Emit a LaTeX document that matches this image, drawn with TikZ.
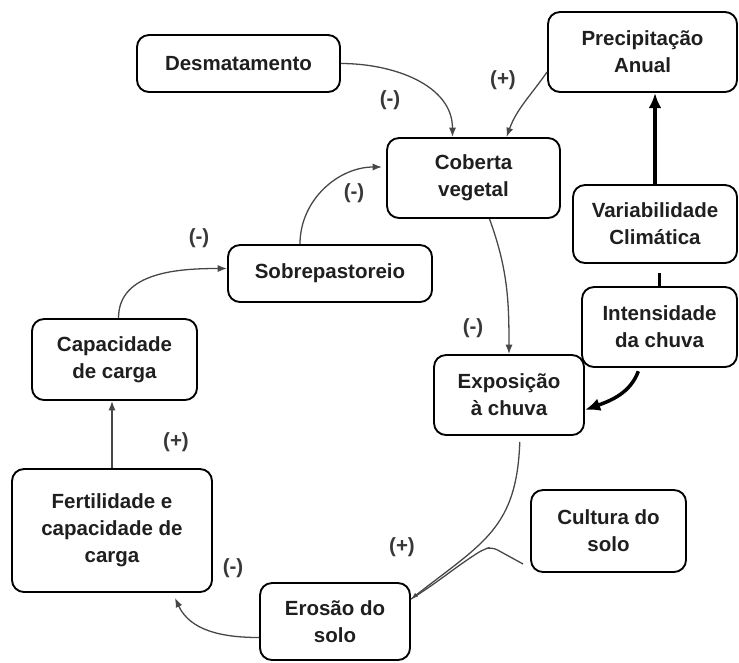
\documentclass[tikz,border=0pt]{standalone}
\usepackage{fontspec}
\setmainfont{Liberation Sans}
\usetikzlibrary{arrows.meta,calc}

\begin{document}
\begin{tikzpicture}[x=0.03cm, y=-0.03cm,
  box/.style={draw, line width=1.6pt, rounded corners=0.36cm, inner sep=0pt, align=center,
    font=\fontsize{17.5}{23}\selectfont\bfseries, text=black!88},
  sign/.style={font=\fontsize{17.5}{21}\selectfont\bfseries, text=black!78},
  link/.style={draw=black!72, line width=1.1pt, -{Latex[length=8pt,width=6pt]}},
  heavy/.style={draw=black, line width=3pt, -{Latex[length=13pt,width=11pt]}}]
\useasboundingbox (0,0) rectangle (739,662);

% Boxes
\node [box, minimum width=6.09cm, minimum height=1.71cm] (desm) at (238.5,63.5) {Desmatamento};
\node [box, minimum width=5.19cm, minimum height=2.4cm] (cob) at (473.5,178) {Coberta\\vegetal};
\node [box, minimum width=5.67cm, minimum height=2.4cm] (prec) at (642.5,52) {Precipitação\\Anual};
\node [box, minimum width=4.92cm, minimum height=2.34cm] (var) at (655,224) {Variabilidade\\Climática};
\node [box, minimum width=4.65cm, minimum height=2.4cm] (int) at (659.5,327) {Intensidade\\da chuva};
\node [box, minimum width=4.5cm, minimum height=2.4cm] (exp) at (509,395) {Exposição\\à chuva};
\node [box, minimum width=4.65cm, minimum height=2.46cm] (cult) at (608.5,531) {Cultura do\\solo};
\node [box, minimum width=4.5cm, minimum height=2.31cm] (eros) at (335,621.5) {Erosão do\\solo};
\node [box, minimum width=6cm, minimum height=3.69cm] (fert) at (112,530.5) {Fertilidade e\\capacidade de\\carga};
\node [box, minimum width=4.95cm, minimum height=2.43cm] (cap) at (114.5,359.5) {Capacidade\\de carga};
\node [box, minimum width=6.12cm, minimum height=1.71cm] (sob) at (330,273.5) {Sobrepastoreio};

% Signs
\node [sign] (sgDesm) at (390,100) {(-)};
\node [sign] (sgPrec) at (503,80) {(+)};
\node [sign] (sgSob) at (354,193) {(-)};
\node [sign] (sgCap) at (199,238) {(-)};
\node [sign] (sgCob) at (473,328) {(-)};
\node [sign] (sgFert) at (176,442) {(+)};
\node [sign] (sgEros) at (233,568) {(-)};
\node [sign] (sgExp) at (402,547) {(+)};

% Links into the cover
\draw [link] (desm.east) to[out=0, in=90] ($(cob.north)+(-21,0)$);
\draw [link] ($(prec.west)+(0,20)$) to[out=235, in=70] ($(cob.north)+(33,0)$);
\draw [link] ($(sob.north)+(-30,0)$) to[out=90, in=180] ($(cob.west)+(-4,-11)$);
\draw [link] ($(cap.north)+(4,0)$) to[out=90, in=180] ($(sob.west)+(0,-5)$);

% Climate
\draw [heavy] (var.north) -- (var.north |- prec.south);
\draw [draw=black, line width=3pt, shorten >=8pt] (int.north) -- (int.north |- var.south);
\draw [heavy, shorten <=3pt] ($(int.south)+(-20,0)$) to[out=250, in=20] ($(exp.east)+(0,15)$);

% Rain and soil
\draw [link] ($(cob.south)+(16,0)$) to[out=-70, in=90] (exp.north);
\draw [link, -{Latex[length=6pt,width=4pt]}, shorten <=5pt] ($(exp.south)+(11,0)$)
  to[out=-92, in=38, looseness=1.2] ($(eros.north east)+(0,17)$);
\draw [draw=black!72, line width=1.1pt, rounded corners=5pt] ($(cult.west)+(-7,33)$) -- ++(-31,-17) -- ++(-8,2)
  to[out=212, in=32] ($(eros.north east)+(0,17)$);
\draw [link] ($(eros.west)+(0,16)$) to[out=180, in=-65] ($(fert.south east)+(-38,5)$);
\draw [link] (fert.north) -- (fert.north |- cap.south);

\end{tikzpicture}
\end{document}
